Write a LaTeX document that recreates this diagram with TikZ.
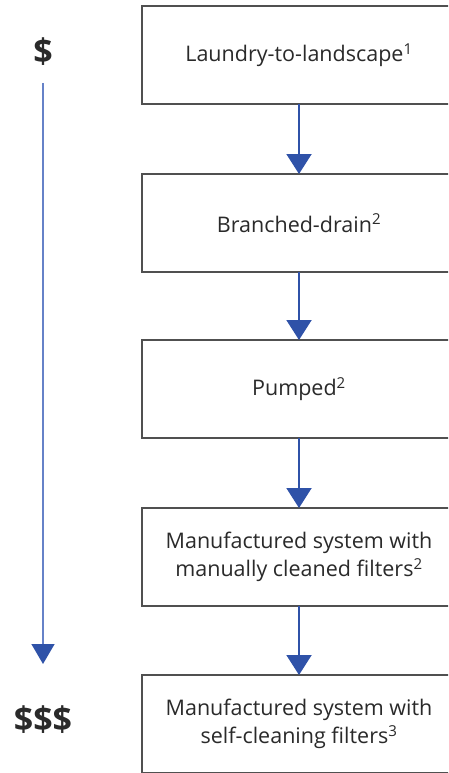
\documentclass[tikz,border=0pt]{standalone}
\usepackage{fontspec}
\setmainfont{Open Sans}
\usepackage{xcolor}
\usetikzlibrary{arrows.meta}
\definecolor{flowblue}{HTML}{2F52A8}
\definecolor{costblue}{HTML}{6682C8}
\definecolor{boxgray}{HTML}{505050}
\definecolor{textgray}{HTML}{2A2A2A}

\begin{document}
\begin{tikzpicture}[x=1pt,y=-1pt,
  stage/.style={draw=boxgray, line width=2pt, fill=white, minimum width=314pt, minimum height=98pt,
    outer sep=0pt, align=center, text=textgray, font=\fontsize{21.5}{28}\selectfont},
  flow/.style={flowblue, line width=2pt, -{Triangle[width=25pt,length=20pt]}},
  cost/.style={font=\bfseries\fontsize{34}{36}\selectfont, text=textgray}]
\useasboundingbox (0,0) rectangle (448,773);
\clip (0,0) rectangle (448,773);

\node [stage] (laundry) at (299,55) {Laundry-to-landscape\textsuperscript{1}};
\node [stage] (branched) at (299,223) {Branched-drain\textsuperscript{2}};
\node [stage] (pumped) at (299,389) {Pumped\textsuperscript{2}};
\node [stage] (manual) at (299,557) {Manufactured system with\\manually cleaned filters\textsuperscript{2}};
\node [stage] (selfclean) at (299,724) {Manufactured system with\\self-cleaning filters\textsuperscript{3}};

\draw [flow] (laundry) -- (branched);
\draw [flow] (branched) -- (pumped);
\draw [flow] (pumped) -- (manual);
\draw [flow] (manual) -- (selfclean);

% cost scale
\node [cost] (low) at (43,52) {\$};
\node [cost] (high) at (43,720) {\$\$\$};
\coordinate (top) at (43,83);
\coordinate (bottom) at (43,664);
\draw [costblue, line width=1.5pt, -{Triangle[width=23pt,length=20pt,color=flowblue]}] (top) -- (bottom);

\end{tikzpicture}
\end{document}
